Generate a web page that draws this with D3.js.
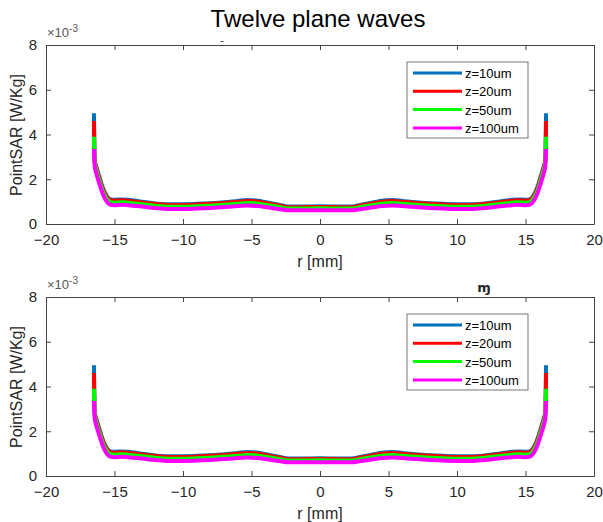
<!DOCTYPE html>
<html>
<head>
<meta charset="utf-8">
<script src="https://cdn.jsdelivr.net/npm/d3@7"></script>
<style>
  body { margin: 0; background: #fff; }
  svg text { font-family: "Liberation Sans", Arial, sans-serif; fill: #262626; }
</style>
</head>
<body>
<div id="chart"></div>
<script>
// radial position [mm]
const rValues = [-16.5, -16.45, -16.3, -16.1, -15.9, -15.7, -15.5, -15.3, -15.0, -14.5, -14, -13, -12, -11, -10, -9, -8, -7, -6, -5.3, -4.5, -4, -3, -2.3, -1.5, 0,
                 1.5, 2.3, 3, 4, 4.5, 5.3, 6, 7, 8, 9, 10, 11, 12, 13, 14, 14.5, 15.0, 15.3, 15.5, 15.7, 15.9, 16.1, 16.3, 16.45, 16.5];

// PointSAR values (x 1e-3 W/Kg)
const sarZ10 = [4.95, 2.9, 2.5, 2.1, 1.7, 1.4, 1.2, 1.1, 1.08, 1.1, 1.08, 1.0, 0.92, 0.88, 0.88, 0.9, 0.93, 0.97, 1.03, 1.07, 1.04, 0.98, 0.86, 0.78, 0.78, 0.79,
                0.78, 0.78, 0.86, 0.98, 1.04, 1.07, 1.03, 0.97, 0.93, 0.9, 0.88, 0.88, 0.92, 1.0, 1.08, 1.1, 1.08, 1.1, 1.2, 1.4, 1.7, 2.1, 2.5, 2.9, 4.95];
const sarZ20 = [4.6, 2.85, 2.45, 2.05, 1.65, 1.36, 1.16, 1.06, 1.04, 1.06, 1.04, 0.96, 0.89, 0.85, 0.85, 0.87, 0.9, 0.94, 0.99, 1.03, 1.0, 0.94, 0.83, 0.75, 0.75, 0.76,
                0.75, 0.75, 0.83, 0.94, 1.0, 1.03, 0.99, 0.94, 0.9, 0.87, 0.85, 0.85, 0.89, 0.96, 1.04, 1.06, 1.04, 1.06, 1.16, 1.36, 1.65, 2.05, 2.45, 2.85, 4.6];
const sarZ50 = [3.9, 2.75, 2.35, 1.95, 1.55, 1.27, 1.07, 0.97, 0.95, 0.97, 0.95, 0.88, 0.81, 0.77, 0.77, 0.79, 0.82, 0.86, 0.9, 0.94, 0.91, 0.86, 0.76, 0.69, 0.69, 0.7,
                0.69, 0.69, 0.76, 0.86, 0.91, 0.94, 0.9, 0.86, 0.82, 0.79, 0.77, 0.77, 0.81, 0.88, 0.95, 0.97, 0.95, 0.97, 1.07, 1.27, 1.55, 1.95, 2.35, 2.75, 3.9];
const sarZ100 = [3.35, 2.6, 2.2, 1.8, 1.42, 1.14, 0.95, 0.86, 0.84, 0.86, 0.84, 0.78, 0.71, 0.67, 0.67, 0.69, 0.72, 0.76, 0.8, 0.83, 0.8, 0.76, 0.67, 0.61, 0.61, 0.62,
                 0.61, 0.61, 0.67, 0.76, 0.8, 0.83, 0.8, 0.76, 0.72, 0.69, 0.67, 0.67, 0.71, 0.78, 0.84, 0.86, 0.84, 0.86, 0.95, 1.14, 1.42, 1.8, 2.2, 2.6, 3.35];

const seriesNames = ["z=10um", "z=20um", "z=50um", "z=100um"];
const seriesColors = ["#0072BD", "#FF0000", "#00FF00", "#FF00FF"];
const seriesValues = [sarZ10, sarZ20, sarZ50, sarZ100];

const xTicks = [-20, -15, -10, -5, 0, 5, 10, 15, 20];
const yTicks = [0, 2, 4, 6, 8];

const width = 603, height = 522;
const svg = d3.select("#chart").append("svg")
    .attr("width", width).attr("height", height);

// title
svg.append("text")
    .attr("x", 318).attr("y", 27)
    .attr("text-anchor", "middle")
    .style("font-size", "24px")
    .style("fill", "#000")
    .text("Twelve plane waves");
svg.append("text")
    .attr("x", 222).attr("y", 44)
    .attr("text-anchor", "middle")
    .style("font-size", "11px")
    .text("-");

function drawPanel(top) {
    const x = d3.scaleLinear().domain([-20, 20]).range([46, 594]);
    const y = d3.scaleLinear().domain([0, 8]).range([top + 179, top]);
    const g = svg.append("g");

    // axes with inward ticks on all sides
    g.append("g").attr("transform", `translate(0,${top + 179})`)
        .call(d3.axisBottom(x).tickValues(xTicks).tickSizeInner(-5).tickSizeOuter(0).tickPadding(10));
    g.append("g").attr("transform", `translate(0,${top})`)
        .call(d3.axisTop(x).tickValues(xTicks).tickSizeInner(-5).tickSizeOuter(0).tickFormat(""));
    g.append("g").attr("transform", "translate(46,0)")
        .call(d3.axisLeft(y).tickValues(yTicks).tickSizeInner(-5).tickSizeOuter(0).tickPadding(9));
    g.append("g").attr("transform", "translate(594,0)")
        .call(d3.axisRight(y).tickValues(yTicks).tickSizeInner(-5).tickSizeOuter(0).tickFormat(""));
    g.selectAll(".domain").attr("stroke", "#444");
    g.selectAll(".tick line").attr("stroke", "#444");
    g.selectAll(".tick text")
        .style("font-size", "15px")
        .style("font-family", "Liberation Sans, Arial, sans-serif")
        .attr("fill", "#262626");

    // exponent label
    const ex = g.append("text").attr("x", 47).attr("y", top - 8).style("font-size", "13px").style("fill", "#555");
    ex.append("tspan").text("\u00d710");
    ex.append("tspan").attr("dy", -5).style("font-size", "10px").text("-3");

    // axis labels
    g.append("text")
        .attr("transform", `translate(22,${top + 90}) rotate(-90)`)
        .attr("text-anchor", "middle")
        .style("font-size", "16px")
        .text("PointSAR [W/Kg]");
    g.append("text")
        .attr("x", 320).attr("y", top + 222)
        .attr("text-anchor", "middle")
        .style("font-size", "16px")
        .text("r [mm]");

    // curves
    const line = d3.line()
        .x((d, i) => x(rValues[i])).y(d => y(d))
        .curve(d3.curveMonotoneX);
    seriesValues.forEach((vals, k) => {
        g.append("path")
            .datum(vals)
            .attr("d", line)
            .attr("fill", "none")
            .attr("stroke", seriesColors[k])
            .attr("stroke-width", 4)
            .attr("stroke-linejoin", "round");
    });

    // legend
    const lg = g.append("g").attr("transform", `translate(407,${top + 17})`);
    lg.append("rect").attr("width", 121).attr("height", 76)
        .attr("fill", "#fff").attr("stroke", "#777").attr("stroke-width", 1);
    seriesNames.forEach((name, k) => {
        const yy = 11 + k * 18.3;
        lg.append("line").attr("x1", 6).attr("x2", 55).attr("y1", yy).attr("y2", yy)
            .attr("stroke", seriesColors[k]).attr("stroke-width", 3);
        lg.append("text").attr("x", 58).attr("y", yy + 5)
            .style("font-size", "13px").style("fill", "#000").text(name);
    });
    return g;
}

drawPanel(45);
const bottom = drawPanel(297);
bottom.append("text")
    .attr("x", 484).attr("y", 292)
    .attr("text-anchor", "middle")
    .style("font-size", "13px").style("font-weight", "bold").style("font-family", "DejaVu Sans")
    .text("\u0271");
</script>
</body>
</html>
